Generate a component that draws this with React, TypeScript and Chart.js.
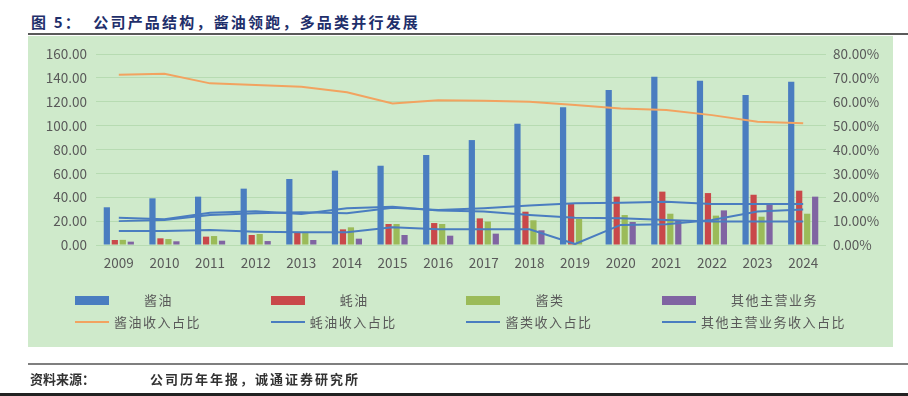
import React, { useEffect, useRef } from "react";
import { Chart, registerables } from "chart.js";

Chart.register(...registerables);

const years = ["2009", "2010", "2011", "2012", "2013", "2014", "2015", "2016", "2017", "2018", "2019", "2020", "2021", "2022", "2023", "2024"];
const soySauce = [31.6, 39.1, 40.5, 47.2, 55.3, 62.3, 66.4, 75.4, 87.9, 101.6, 115.3, 129.8, 141.0, 137.6, 125.6, 136.8];
const oysterSauce = [4.2, 5.6, 7.0, 8.4, 10.3, 13.1, 17.6, 18.4, 22.3, 27.9, 34.3, 40.5, 44.7, 43.5, 42.1, 45.5];
const sauces = [4.3, 5.0, 7.5, 9.2, 10.0, 14.8, 17.6, 17.6, 19.6, 20.7, 21.8, 25.1, 26.2, 24.6, 23.7, 26.2];
const otherBiz = [2.8, 3.1, 3.6, 3.3, 4.2, 5.3, 8.4, 7.8, 9.5, 12.3, 0, 19.3, 20.9, 29.0, 34.3, 40.5];

const soyShare = [71.3, 71.7, 67.7, 67.0, 66.3, 64.0, 59.3, 60.6, 60.4, 60.0, 58.6, 57.2, 56.5, 54.4, 51.6, 51.0];
const oysterShare = [10.0, 10.5, 12.6, 13.3, 13.7, 13.3, 15.6, 14.7, 15.4, 16.5, 17.5, 17.7, 18.1, 17.2, 17.2, 17.2];
const saucesShare = [11.4, 10.8, 13.5, 14.1, 13.0, 15.4, 16.0, 14.4, 14.0, 12.6, 11.4, 11.2, 10.5, 9.8, 9.8, 9.8];
const otherShare = [5.9, 5.9, 6.3, 5.6, 5.3, 5.3, 7.4, 6.6, 6.6, 6.6, 0.4, 8.4, 8.7, 10.5, 14.0, 14.9];

const barNames = ["酱油", "蚝油", "酱类", "其他主营业务"];
const lineNames = ["酱油收入占比", "蚝油收入占比", "酱类收入占比", "其他主营业务收入占比"];

const titleText = "图 5：  公司产品结构，酱油领跑，多品类并行发展";
const sourceLabel = "资料来源：";
const sourceText = "公司历年年报，诚通证券研究所";

const BLUE = "#4A7DC0";
const RED = "#C9484A";
const GREEN = "#9BBB59";
const PURPLE = "#8064A2";
const ORANGE = "#F2A360";
const LINEBLUE = "#4A7DC0";

const barColors = [BLUE, RED, GREEN, PURPLE];
const lineColors = [ORANGE, LINEBLUE, LINEBLUE, LINEBLUE];

const FONT = "'Noto Sans CJK SC', 'Noto Sans', sans-serif";

export default function App() {
  const canvasRef = useRef<HTMLCanvasElement | null>(null);

  useEffect(() => {
    const canvas = canvasRef.current;
    if (!canvas) return;
    const barSeries = [soySauce, oysterSauce, sauces, otherBiz];
    const lineSeries = [soyShare, oysterShare, saucesShare, otherShare];
    const datasets: any[] = [];
    lineSeries.forEach((d, i) => {
      datasets.push({
        type: "line",
        label: lineNames[i],
        data: d,
        yAxisID: "y1",
        borderColor: lineColors[i],
        backgroundColor: lineColors[i],
        borderWidth: 2,
        pointRadius: 0,
        tension: 0,
        order: 0,
      });
    });
    barSeries.forEach((d, i) => {
      datasets.push({
        type: "bar",
        label: barNames[i],
        data: d,
        yAxisID: "y",
        backgroundColor: barColors[i],
        borderWidth: 0,
        categoryPercentage: 0.7,
        barPercentage: 0.78,
        order: 1,
      });
    });

    const chart = new Chart(canvas, {
      type: "bar",
      data: { labels: years, datasets },
      options: {
        animation: false,
        responsive: false,
        devicePixelRatio: 1,
        layout: { padding: { top: 54, left: 0, right: 0, bottom: 0 } },
        plugins: { legend: { display: false }, tooltip: { enabled: false }, title: { display: false } },
        scales: {
          x: {
            grid: { display: false, drawTicks: false },
            border: { display: false },
            ticks: { color: "#595959", font: { family: FONT, size: 13.5 }, padding: 10 },
            afterFit: (s: any) => { s.height = 151; },
          },
          y: {
            position: "left",
            min: 0,
            max: 160,
            ticks: {
              stepSize: 20,
              color: "#595959",
              font: { family: FONT, size: 13.5 },
              padding: 9,
              callback: (v: any) => Number(v).toFixed(2),
            },
            grid: { color: "#B7DBB2", lineWidth: 1, drawTicks: false },
            border: { display: false },
            afterFit: (s: any) => { s.width = 96; },
          },
          y1: {
            position: "right",
            min: 0,
            max: 80,
            ticks: {
              stepSize: 10,
              color: "#595959",
              font: { family: FONT, size: 13.5 },
              padding: 7,
              callback: (v: any) => Number(v).toFixed(2) + "%",
            },
            grid: { drawOnChartArea: false, drawTicks: false },
            border: { display: false },
            afterFit: (s: any) => { s.width = 82; },
          },
        },
      },
    });
    return () => chart.destroy();
  }, []);

  const colStarts = [0, 1, 2, 3].map((i) => 75 + i * 195.7);

  return (
    <div style={{ position: "absolute", left: 0, top: 0, width: 908, height: 396, background: "#fff", overflow: "hidden", fontFamily: FONT }}>
      <div style={{ position: "absolute", left: 31, top: 12, height: 20, lineHeight: "20px", fontSize: 15, fontWeight: 700, color: "#1F2F6B", letterSpacing: 2.2, whiteSpace: "pre" }}>
        {titleText}
      </div>
      <div style={{ position: "absolute", left: 28, top: 33, width: 880, height: 2, background: "#5a5a5a" }} />
      <div style={{ position: "absolute", left: 28, top: 36, width: 865, height: 311, background: "#CFEACB" }} />
      <canvas ref={canvasRef} width={908} height={396} style={{ position: "absolute", left: 0, top: 0, width: 908, height: 396 }} />
      {colStarts.map((x, i) => (
        <React.Fragment key={i}>
          <div style={{ position: "absolute", left: x, top: 296, width: 34, height: 9, background: barColors[i] }} />
          <div style={{ position: "absolute", left: x + 69, top: 291, height: 18, lineHeight: "18px", fontSize: 13, color: "#595959", letterSpacing: 1.5, whiteSpace: "nowrap" }}>
            {barNames[i]}
          </div>
          <div style={{ position: "absolute", left: x, top: 321, width: 34, height: 2, background: lineColors[i] }} />
          <div style={{ position: "absolute", left: x + 39, top: 313, height: 18, lineHeight: "18px", fontSize: 13, color: "#595959", letterSpacing: 1.5, whiteSpace: "nowrap" }}>
            {lineNames[i]}
          </div>
        </React.Fragment>
      ))}
      <div style={{ position: "absolute", left: 28, top: 363, width: 880, height: 2, background: "#7f7f7f" }} />
      <div style={{ position: "absolute", left: 30, top: 370, height: 18, lineHeight: "18px", fontSize: 13, fontWeight: 700, color: "#333", whiteSpace: "nowrap" }}>
        {sourceLabel}
      </div>
      <div style={{ position: "absolute", left: 150, top: 370, height: 18, lineHeight: "18px", fontSize: 13, fontWeight: 700, color: "#333", letterSpacing: 2, whiteSpace: "nowrap" }}>
        {sourceText}
      </div>
      <div style={{ position: "absolute", left: 0, top: 393, width: 908, height: 3, background: "#222" }} />
    </div>
  );
}
